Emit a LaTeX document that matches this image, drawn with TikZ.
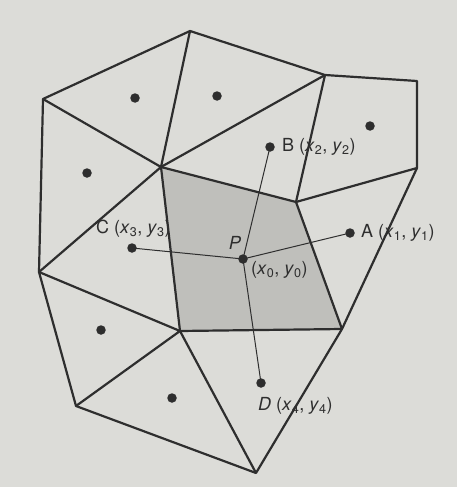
\documentclass[tikz,border=0pt]{standalone}
\usepackage{fontspec}
\setmainfont{TeX Gyre Heros}
\newcommand\myx[1]{\textit{x}\textsubscript{#1}}
\newcommand\myy[1]{\textit{y}\textsubscript{#1}}
\definecolor{paper}{HTML}{DCDCD8}
\definecolor{cellgray}{HTML}{BFBFBB}
\definecolor{ink}{HTML}{2E2E2E}
\tikzset{
  edge/.style={draw=ink, line width=2.2pt, line join=round},
  link/.style={draw=ink, line width=1pt},
  site/.style={circle, fill=ink, inner sep=0pt, minimum size=9.5pt},
  lbl/.style={text=ink, font=\fontsize{18}{20}\selectfont, inner sep=0pt},
}
\begin{document}
\begin{tikzpicture}[x=1pt,y=-1pt]
\fill[paper] (0,0) rectangle (457,487);
\useasboundingbox (0,0) rectangle (457,487);
% vertices
\coordinate (T) at (190,31);
\coordinate (L1) at (43,99);
\coordinate (R1) at (325,75);
\coordinate (R2) at (417,81);
\coordinate (R3) at (417,168);
\coordinate (H) at (161,167);
\coordinate (S2) at (296,202);
\coordinate (S3) at (342,329);
\coordinate (S1) at (180,331);
\coordinate (L2) at (39,272);
\coordinate (L3) at (76,406);
\coordinate (Bt) at (256,473);
% shaded cell
\fill[cellgray] (H) -- (S2) -- (S3) -- (S1) -- cycle;
% edges
\draw[edge] (L2) -- (L1) -- (T) -- (R1) -- (R2) -- (R3) -- (S3) -- (Bt) -- (L3) -- cycle;
\draw[edge] (L1) -- (H) -- (T);
\draw[edge] (H) -- (R1);
\draw[edge] (H) -- (S2) -- (R1);
\draw[edge] (S2) -- (R3);
\draw[edge] (S2) -- (S3) -- (S1) -- (H) -- (L2);
\draw[edge] (L2) -- (S1) -- (L3);
\draw[edge] (S1) -- (Bt);
% sites
\node[site] (s1) at (135,98) {};
\node[site] (s2) at (217,96) {};
\node[site] (s3) at (370,126) {};
\node[site] (s4) at (87,173) {};
\node[site] (s5) at (101,330) {};
\node[site] (s6) at (172,398) {};
\node[site] (B) at (270,147) {};
\node[site] (A) at (350,233) {};
\node[site] (C) at (132,248) {};
\node[site] (P) at (243,259) {};
\node[site] (D) at (261,383) {};
% links
\draw[link] (P.center) -- (A.center);
\draw[link] (P.center) -- (B.center);
\draw[link] (P.center) -- (C.center);
\draw[link] (P.center) -- (D.center);
% labels
\node[lbl, anchor=west] (lB) at (282,147) {B (\myx{2}, \myy{2})};
\node[lbl, anchor=west] (lA) at (361,233) {A (\myx{1}, \myy{1})};
\node[lbl, anchor=west] (lC) at (96,229) {C (\myx{3}, \myy{3})};
\node[lbl] (lP) at (235,243) {\textit{P}};
\node[lbl, anchor=west] (lP0) at (251,270) {(\myx{0}, \myy{0})};
\node[lbl, anchor=west] (lD) at (258,406) {\textit{D} (\myx{4}, \myy{4})};
\end{tikzpicture}
\end{document}
